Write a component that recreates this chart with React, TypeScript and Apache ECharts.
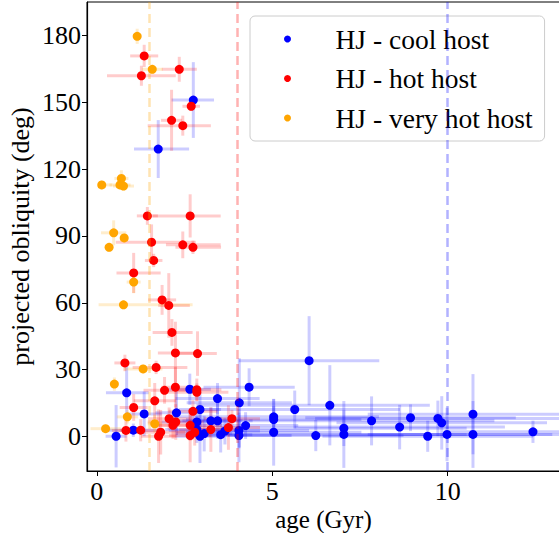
import React, { useEffect, useRef } from "react";
import * as echarts from "echarts";

// ---- HJ - cool host ----
const coolAge = [2.75, 1.75, 0.85, 1.35, 1.04, 0.55, 2.65, 2.27, 2.94, 2.85, 2.85, 2.94, 3.06, 3.44, 3.25, 3.44, 3.53, 3.65, 4.06, 6.05, 4.34, 4.24, 4.05, 4.05, 5.64, 5.04, 5.04, 5.04, 6.64, 7.83, 8.94, 9.72, 9.83, 10.72, 8.63, 7.04, 7.04, 6.24, 9.43, 9.98, 10.72, 12.43];
const coolObl = [151, 129, 19.6, 10.1, 2.8, 0.1, 21.2, 10.6, 12.1, 6.5, 3.1, 0.1, 1.3, 17, 7.0, 7.0, 0.8, 2.4, 15.1, 34, 22.1, 4.9, 2.7, 0.4, 12.1, 8.8, 7.6, 1.9, 14.0, 7.0, 8.4, 8.1, 6.1, 10.0, 4.2, 3.7, 0.9, 0.4, 0.1, 0.9, 0.9, 2.1];
const coolAgeLo = [0.62, 0.69, 0.59, 0.5, 0.7, 0.3, 0.6, 0.6, 0.6, 1.0, 0.9, 0.7, 0.8, 1.2, 0.9, 1.0, 0.9, 1.0, 1.5, 2.0, 1.3, 1.5, 2.0, 1.5, 3.0, 3.0, 2.5, 2.5, 3.8, 3.5, 3.0, 3.5, 3.0, 3.0, 3.0, 3.5, 3.5, 2.5, 3.0, 3.0, 3.0, 2.5];
const coolAgeHi = [0.59, 0.88, 0.63, 0.5, 0.7, 0.3, 0.6, 0.6, 0.6, 1.0, 0.9, 0.7, 0.8, 1.2, 0.9, 1.0, 0.9, 1.0, 1.5, 2.0, 1.3, 1.5, 2.0, 1.5, 3.0, 3.0, 2.5, 2.5, 2.85, 3.5, 3.0, 3.5, 3.0, 3.0, 3.0, 3.5, 3.5, 2.5, 3.0, 3.0, 3.0, 2.5];
const coolOblErr = [17, 13, 12, 10, 3, 14, 7, 10, 8, 6, 6, 12, 8, 7, 6, 8, 8, 6, 20, 20, 8.5, 6, 8, 12, 8.5, 8, 6, 15, 18, 11, 6, 8, 12, 18, 10, 8, 15, 7, 7, 12, 15, 5];

// ---- HJ - hot host ----
const hotAge = [1.35, 2.35, 1.27, 2.69, 2.13, 2.45, 1.44, 2.66, 1.56, 2.45, 2.74, 1.62, 1.05, 1.86, 2.05, 2.14, 2.24, 2.87, 0.80, 1.69, 1.93, 2.24, 2.85, 2.85, 1.65, 1.05, 2.74, 2.06, 2.25, 2.17, 2.66, 0.83, 1.25, 1.82, 1.76, 2.66, 2.79, 3.85, 3.75, 3.25];
const hotObl = [170.8, 164.8, 161.9, 148.2, 141.9, 139.5, 99, 99, 87.2, 86, 84.9, 79, 73.4, 61.3, 58.8, 46.7, 37.5, 37.2, 33, 31, 20.7, 22.1, 21.0, 19.8, 16, 13, 11.3, 8.0, 6.5, 5.0, 5.0, 2.7, 2.8, 1.9, 0.1, 0.4, 1.9, 8.0, 4.0, 3.1];
const hotAgeLo = [0.4, 0.5, 0.98, 0.25, 0.3, 1.0, 0.3, 1.07, 1.02, 0.48, 0.5, 0.25, 0.49, 0.4, 0.3, 0.55, 0.5, 0.55, 0.3, 0.67, 0.6, 0.4, 0.7, 0.9, 0.6, 0.4, 0.7, 0.6, 0.8, 0.5, 0.9, 0.4, 0.6, 0.7, 0.5, 0.6, 0.5, 0.8, 0.9, 0.9];
const hotAgeHi = [0.4, 0.5, 0.98, 0.25, 0.3, 0.8, 0.3, 0.87, 1.26, 1.08, 0.8, 0.25, 0.77, 0.4, 0.6, 0.59, 0.5, 0.55, 0.3, 0.89, 0.6, 0.4, 0.7, 0.9, 0.6, 0.4, 0.7, 0.6, 0.8, 0.5, 0.9, 0.4, 0.6, 0.7, 0.5, 0.6, 0.5, 0.8, 0.9, 0.9];
const hotOblErr = [5, 5.6, 4.5, 2, 13.7, 4.5, 4, 9.7, 8, 6, 3, 3, 9, 6.7, 14.5, 6, 14, 10, 3.7, 3, 6, 9, 5, 4, 8, 6, 5, 5, 8, 6, 7, 5, 5, 10, 12, 12, 6, 4, 10, 10];

// ---- HJ - very hot host ----
const vhotAge = [1.15, 1.58, 0.14, 0.70, 0.66, 0.76, 0.48, 0.78, 0.35, 1.05, 0.76, 1.32, 0.50, 0.87, 1.65, 0.25];
const vhotObl = [179.6, 164.8, 112.9, 115.8, 112.9, 112.4, 91.4, 89.1, 84.9, 69.3, 59.1, 30.3, 23.5, 8.8, 5.7, 3.5];
const vhotAgeLo = [0.05, 0.3, 0.1, 0.2, 0.3, 0.3, 0.36, 0.1, 0.1, 0.2, 0.71, 0.55, 0.1, 0.3, 0.2, 0.43];
const vhotAgeHi = [0.05, 0.3, 0.3, 0.2, 0.3, 0.3, 0.36, 0.1, 0.1, 0.2, 1.97, 0.55, 0.1, 0.3, 0.2, 0.43];
const vhotOblErr = [3.4, 2, 2, 3.7, 2, 2, 5.6, 2, 2, 5, 2, 2, 3, 3, 4, 2];

// axis ticks and reference lines
const xTicks = [0, 5, 10];
const yTicks = [0, 30, 60, 90, 120, 150, 180];
const refLines = [
  { x: 1.5, color: "rgba(255,165,0,0.3)" },
  { x: 4, color: "rgba(255,0,0,0.3)" },
  { x: 10, color: "rgba(0,0,255,0.3)" },
];

const FONT = "Liberation Serif";
const FS = 26;

function rows(age: number[], obl: number[], lo: number[], hi: number[], err: number[]) {
  return age.map((a, i) => [a, obl[i], a - lo[i], a + hi[i], obl[i] - err[i], obl[i] + err[i]]);
}

function errRender(color: string) {
  return (params: any, api: any) => {
    const x = api.value(0);
    const y = api.value(1);
    const p0 = api.coord([api.value(2), y]);
    const p1 = api.coord([api.value(3), y]);
    const q0 = api.coord([x, api.value(4)]);
    const q1 = api.coord([x, api.value(5)]);
    const style = { stroke: color, lineWidth: 3, fill: null };
    return {
      type: "group",
      children: [
        { type: "line", shape: { x1: p0[0], y1: p0[1], x2: p1[0], y2: p1[1] }, style },
        { type: "line", shape: { x1: q0[0], y1: q0[1], x2: q1[0], y2: q1[1] }, style },
      ],
    };
  };
}

export default function App() {
  const ref = useRef<HTMLDivElement>(null);
  useEffect(() => {
    if (!ref.current) return;
    const chart = echarts.init(ref.current, undefined, { renderer: "svg" });
    const groups = [
      { name: "HJ - cool host", color: "#0000ff", bar: "rgba(0,0,255,0.2)", data: rows(coolAge, coolObl, coolAgeLo, coolAgeHi, coolOblErr) },
      { name: "HJ - hot host", color: "#ff0000", bar: "rgba(255,0,0,0.2)", data: rows(hotAge, hotObl, hotAgeLo, hotAgeHi, hotOblErr) },
      { name: "HJ - very hot host", color: "#ffa500", bar: "rgba(255,165,0,0.2)", data: rows(vhotAge, vhotObl, vhotAgeLo, vhotAgeHi, vhotOblErr) },
    ];
    const series: any[] = [];
    groups.forEach((g, gi) => {
      series.push({
        type: "custom",
        name: g.name + " err",
        data: g.data,
        encode: { x: 0, y: 1 },
        renderItem: errRender(g.bar),
        clip: true,
        silent: true,
      });
      const s: any = {
        type: "scatter",
        name: g.name,
        data: g.data.map((r) => [r[0], r[1]]),
        symbol: "circle",
        symbolSize: 9,
        itemStyle: { color: g.color, opacity: 1 },
      };
      if (gi === groups.length - 1) {
        s.markLine = {
          silent: true,
          symbol: "none",
          label: { show: false },
          data: refLines.map((l) => ({
            xAxis: l.x,
            lineStyle: { color: l.color, type: [9, 5], width: 2.5 },
          })),
        };
      }
      series.push(s);
    });

    chart.setOption({
      animation: false,
      grid: {
        left: 87,
        top: 2,
        width: 473,
        height: 469,
        show: true,
        borderColor: "#000",
        borderWidth: 1,
        backgroundColor: "transparent",
        containLabel: false,
        outerBoundsMode: "none",
      },
      legend: {
        data: groups.map((g) => g.name),
        orient: "vertical",
        left: 250,
        top: 16,
        padding: [9, 12, 9, 34],
        itemWidth: 14,
        itemHeight: 7,
        itemGap: 11.5,
        icon: "circle",
        backgroundColor: "#fff",
        borderColor: "#cccccc",
        borderWidth: 1,
        borderRadius: 5,
        textStyle: {
          fontFamily: FONT,
          fontSize: 27.5,
          color: "#000",
          lineHeight: 28,
          padding: [0, 0, 0, 36],
        },
      },
      xAxis: {
        type: "value",
        min: -0.28,
        max: 13.2,
        splitNumber: 3,
        name: "age (Gyr)",
        nameLocation: "middle",
        nameGap: 36,
        nameMoveOverlap: false,
        nameTextStyle: { fontFamily: FONT, fontSize: 25, color: "#000", lineHeight: 25 },
        axisLine: { onZero: false, lineStyle: { color: "#000", width: 1.2 } },
        axisTick: { show: true, length: 5, lineStyle: { color: "#000" }, customValues: xTicks },
        axisLabel: { fontFamily: FONT, fontSize: FS, color: "#000", margin: 7, customValues: xTicks },
        splitLine: { show: false },
      },
      yAxis: {
        type: "value",
        min: -15.5,
        max: 195,
        splitNumber: 7,
        name: "projected obliquity (deg)",
        nameLocation: "middle",
        nameGap: 54,
        nameMoveOverlap: false,
        nameTextStyle: { fontFamily: FONT, fontSize: FS, color: "#000" },
        axisLine: { onZero: false, lineStyle: { color: "#000", width: 1.2 } },
        axisTick: { show: true, length: 5, lineStyle: { color: "#000" }, customValues: yTicks },
        axisLabel: { fontFamily: FONT, fontSize: FS, color: "#000", margin: 6, customValues: yTicks },
        splitLine: { show: false },
      },
      series,
    });
    return () => chart.dispose();
  }, []);
  return <div ref={ref} style={{ width: 559, height: 533, position: "absolute", left: 0, top: 0 }} />;
}
